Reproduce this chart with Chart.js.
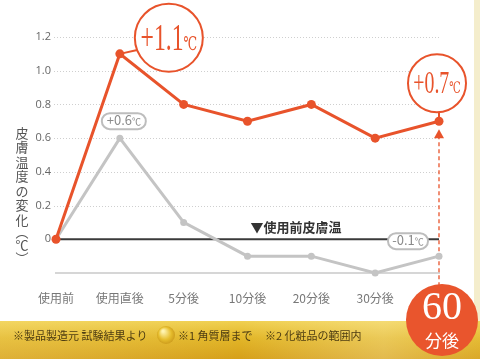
<!DOCTYPE html>
<html>
<head>
<meta charset="utf-8">
<script src="https://cdn.jsdelivr.net/npm/chart.js@4"></script>
<style>
  html, body { margin: 0; padding: 0; background: #fff; }
  #wrap { width: 480px; height: 359px; position: relative; }
</style>
</head>
<body>
<div id="wrap"><canvas id="chart" width="480" height="359"></canvas></div>
<script>
const categories = ["使用前", "使用直後", "5分後", "10分後", "20分後", "30分後", "60分後"];
const afterUse = [0, 1.1, 0.8, 0.7, 0.8, 0.6, 0.7];
const normal = [0, 0.6, 0.1, -0.1, -0.1, -0.2, -0.1];
const yTicks = [1.2, 1.0, 0.8, 0.6, 0.4, 0.2, 0];
const yTitle = ["皮", "膚", "温", "度", "の", "変", "化", "︵", "℃", "︶"];
const baseLabel = "▼使用前皮膚温";
const notes = ["※製品製造元 試験結果より", "※1 角質層まで", "※2 化粧品の範囲内"];

const RED = "#e8532b";
const GREY = "#c4c4c4";
const JP = '"Noto Sans CJK JP", "Noto Sans", sans-serif';
const SERIF = '"Liberation Serif", "DejaVu Serif", serif';

function fmt(v) {
  return (v > 0 ? "+" : "") + v.toFixed(1);
}

// big number + small ℃, optionally squeezed sideways
function tempText(ctx, x, y, v, big, small, color, font, sx) {
  sx = sx || 1;
  const num = fmt(v);
  ctx.save();
  ctx.translate(x, y);
  ctx.scale(sx, 1);
  ctx.font = big + "px " + font;
  const w1 = ctx.measureText(num).width;
  ctx.font = small + "px " + font;
  const w2 = ctx.measureText("℃").width;
  const left = -(w1 + w2) / 2;
  ctx.fillStyle = color;
  ctx.textAlign = "left";
  ctx.textBaseline = "alphabetic";
  ctx.font = big + "px " + font;
  ctx.fillText(num, left, big * 0.35);
  ctx.font = small + "px " + font;
  ctx.fillText("℃", left + w1, big * 0.35);
  ctx.restore();
}

function roundRect(ctx, x, y, w, h, r) {
  ctx.beginPath();
  ctx.moveTo(x + r, y);
  ctx.arcTo(x + w, y, x + w, y + h, r);
  ctx.arcTo(x + w, y + h, x, y + h, r);
  ctx.arcTo(x, y + h, x, y, r);
  ctx.arcTo(x, y, x + w, y, r);
  ctx.closePath();
}

const backdrop = {
  id: "backdrop",
  beforeDraw(chart) {
    const ctx = chart.ctx;
    ctx.save();
    ctx.fillStyle = "#fff";
    ctx.fillRect(0, 0, 480, 359);
    ctx.fillStyle = "#f4edcc";
    ctx.fillRect(474, 0, 6, 321);
    // gold band
    const g = ctx.createLinearGradient(0, 321, 0, 359);
    g.addColorStop(0, "#f0d050");
    g.addColorStop(0.45, "#e2b628");
    g.addColorStop(1, "#d6a01a");
    ctx.fillStyle = g;
    ctx.fillRect(0, 321, 480, 38);
    const h = ctx.createLinearGradient(0, 0, 480, 0);
    h.addColorStop(0, "rgba(255,240,170,0.2)");
    h.addColorStop(0.5, "rgba(255,250,210,0.0)");
    h.addColorStop(0.8, "rgba(255,245,200,0.3)");
    h.addColorStop(1, "rgba(255,240,170,0.1)");
    ctx.fillStyle = h;
    ctx.fillRect(0, 321, 480, 38);
    // little gold bead
    const b = ctx.createRadialGradient(163, 331, 1, 166, 335, 10);
    b.addColorStop(0, "#fff4b0");
    b.addColorStop(0.6, "#e6bd2c");
    b.addColorStop(1, "#c8951a");
    ctx.fillStyle = b;
    ctx.beginPath();
    ctx.arc(166, 335, 9, 0, Math.PI * 2);
    ctx.fill();
    ctx.font = "11px " + JP;
    ctx.fillStyle = "#4d3c12";
    ctx.textBaseline = "middle";
    ctx.textAlign = "left";
    ctx.fillText(notes[0], 13, 336);
    ctx.fillText(notes[1], 178, 336);
    ctx.fillText(notes[2], 265, 336);
    // y title, stacked vertically
    ctx.font = "13px " + JP;
    ctx.fillStyle = "#555";
    ctx.textAlign = "center";
    yTitle.forEach((c, i) => {
      const y = i < 7 ? 133 + i * 14.5 : 232 + (i - 7) * 13;
      ctx.fillText(c, 22, y);
    });
    ctx.restore();
  },
  beforeDatasetsDraw(chart) {
    const { ctx, chartArea, scales } = chart;
    const y = scales.y;
    ctx.save();
    ctx.strokeStyle = "#cfcfcf";
    ctx.lineWidth = 1;
    ctx.setLineDash([1, 2]);
    yTicks.filter(v => v > 0).forEach(v => {
      const py = Math.round(y.getPixelForValue(v)) + 0.5;
      ctx.beginPath();
      ctx.moveTo(chartArea.left - 2, py);
      ctx.lineTo(chartArea.right, py);
      ctx.stroke();
    });
    ctx.setLineDash([]);
    const y0 = y.getPixelForValue(0);
    ctx.strokeStyle = "#3a3a3a";
    ctx.lineWidth = 2;
    ctx.beginPath();
    ctx.moveTo(chartArea.left, y0);
    ctx.lineTo(chartArea.right, y0);
    ctx.stroke();
    ctx.font = "bold 13px " + JP;
    ctx.fillStyle = "#333";
    ctx.textAlign = "left";
    ctx.textBaseline = "middle";
    ctx.fillText(baseLabel, chart.scales.x.getPixelForValue(3) + 3, y0 - 12);
    // dashed arrow at the last category
    const last = categories.length - 1;
    const px = chart.scales.x.getPixelForValue(last);
    const pt = y.getPixelForValue(afterUse[last]);
    ctx.strokeStyle = RED;
    ctx.lineWidth = 1.3;
    ctx.setLineDash([4, 3]);
    ctx.beginPath();
    ctx.moveTo(px, pt + 14);
    ctx.lineTo(px, 300);
    ctx.stroke();
    ctx.setLineDash([]);
    ctx.fillStyle = RED;
    ctx.beginPath();
    ctx.moveTo(px, pt + 8);
    ctx.lineTo(px - 5, pt + 17);
    ctx.lineTo(px + 5, pt + 17);
    ctx.closePath();
    ctx.fill();
    ctx.restore();
  },
  afterDatasetsDraw(chart) {
    const { ctx, scales } = chart;
    const x = scales.x, y = scales.y;
    ctx.save();
    // +1.1 callout
    const p1x = x.getPixelForValue(1), p1y = y.getPixelForValue(afterUse[1]);
    const c1x = p1x + 49, c1y = p1y - 16, r1 = 34;
    ctx.strokeStyle = RED;
    ctx.lineWidth = 2;
    ctx.beginPath();
    ctx.moveTo(p1x, p1y);
    ctx.lineTo(c1x - r1 * 0.93, c1y + r1 * 0.36);
    ctx.stroke();
    ctx.fillStyle = "#fff";
    ctx.beginPath();
    ctx.arc(c1x, c1y, r1, 0, Math.PI * 2);
    ctx.fill();
    ctx.stroke();
    tempText(ctx, c1x, c1y - 1, afterUse[1], 37, 19, RED, SERIF, 0.64);
    // +0.7 callout
    const last = categories.length - 1;
    const p2x = x.getPixelForValue(last), p2y = y.getPixelForValue(afterUse[last]);
    const c2x = p2x - 2, c2y = p2y - 38, r2 = 29;
    ctx.beginPath();
    ctx.moveTo(p2x, p2y);
    ctx.lineTo(p2x, c2y + r2);
    ctx.stroke();
    ctx.fillStyle = "#fff";
    ctx.beginPath();
    ctx.arc(c2x, c2y, r2, 0, Math.PI * 2);
    ctx.fill();
    ctx.stroke();
    tempText(ctx, c2x, c2y - 1, afterUse[last], 31, 16, RED, SERIF, 0.64);
    // grey boxes
    const boxes = [
      { i: 1, dx: 4, dy: -17, w: 44 },
      { i: last, dx: -31, dy: -15, w: 40 }
    ];
    boxes.forEach(bx => {
      const px = x.getPixelForValue(bx.i) + bx.dx;
      const py = y.getPixelForValue(normal[bx.i]) + bx.dy;
      ctx.lineWidth = 2;
      ctx.strokeStyle = "#bdbdbd";
      ctx.fillStyle = "#fff";
      roundRect(ctx, px - bx.w / 2, py - 8, bx.w, 16, 8);
      ctx.fill();
      ctx.stroke();
      tempText(ctx, px, py - 1, normal[bx.i], 13, 9, "#8a8a8a", JP);
    });
    ctx.restore();
  },
  afterDraw(chart) {
    const ctx = chart.ctx;
    const px = chart.scales.x.getPixelForValue(categories.length - 1) + 3;
    ctx.save();
    ctx.fillStyle = "#e9552d";
    ctx.beginPath();
    ctx.arc(px, 320, 36, 0, Math.PI * 2);
    ctx.fill();
    ctx.fillStyle = "#fff";
    ctx.textAlign = "center";
    ctx.textBaseline = "middle";
    ctx.font = "40px " + SERIF;
    ctx.fillText(categories[categories.length - 1].replace("分後", ""), px, 308);
    ctx.font = "17px " + JP;
    ctx.fillText("分後", px, 341);
    ctx.restore();
  }
};

new Chart(document.getElementById("chart"), {
  type: "line",
  data: {
    labels: categories,
    datasets: [
      {
        label: "使用後",
        data: afterUse,
        borderColor: RED,
        backgroundColor: RED,
        borderWidth: 3,
        pointRadius: 4.5,
        pointBorderWidth: 0,
        tension: 0,
        order: 0,
        clip: false
      },
      {
        label: "未使用",
        data: normal,
        borderColor: GREY,
        backgroundColor: GREY,
        borderWidth: 3,
        pointRadius: 3.5,
        pointBorderWidth: 0,
        tension: 0,
        order: 1,
        clip: false
      }
    ]
  },
  options: {
    responsive: false,
    animation: false,
    devicePixelRatio: 1,
    layout: { padding: { top: 37, right: 41, left: 0, bottom: 0 } },
    plugins: { legend: { display: false }, tooltip: { enabled: false } },
    scales: {
      x: {
        offset: false,
        grid: { display: false, drawTicks: false },
        border: { display: true, color: "#d6d6d6", width: 2 },
        ticks: {
          color: "#777",
          font: { family: JP, size: 12 },
          padding: 18,
          maxRotation: 0
        },
        afterFit(scale) { scale.height = 86; }
      },
      y: {
        min: -0.2,
        max: 1.2,
        grid: { display: false, drawTicks: false },
        border: { display: false },
        ticks: {
          stepSize: 0.2,
          color: "#666",
          font: { family: '"Open Sans", sans-serif', size: 11 },
          padding: 5,
          callback(v) {
            const t = yTicks.find(k => Math.abs(k - v) < 1e-6);
            if (t === undefined) return "";
            return t === 0 ? "0" : t.toFixed(1);
          }
        },
        afterFit(scale) { scale.width = 56; }
      }
    }
  },
  plugins: [backdrop]
});
</script>
</body>
</html>
